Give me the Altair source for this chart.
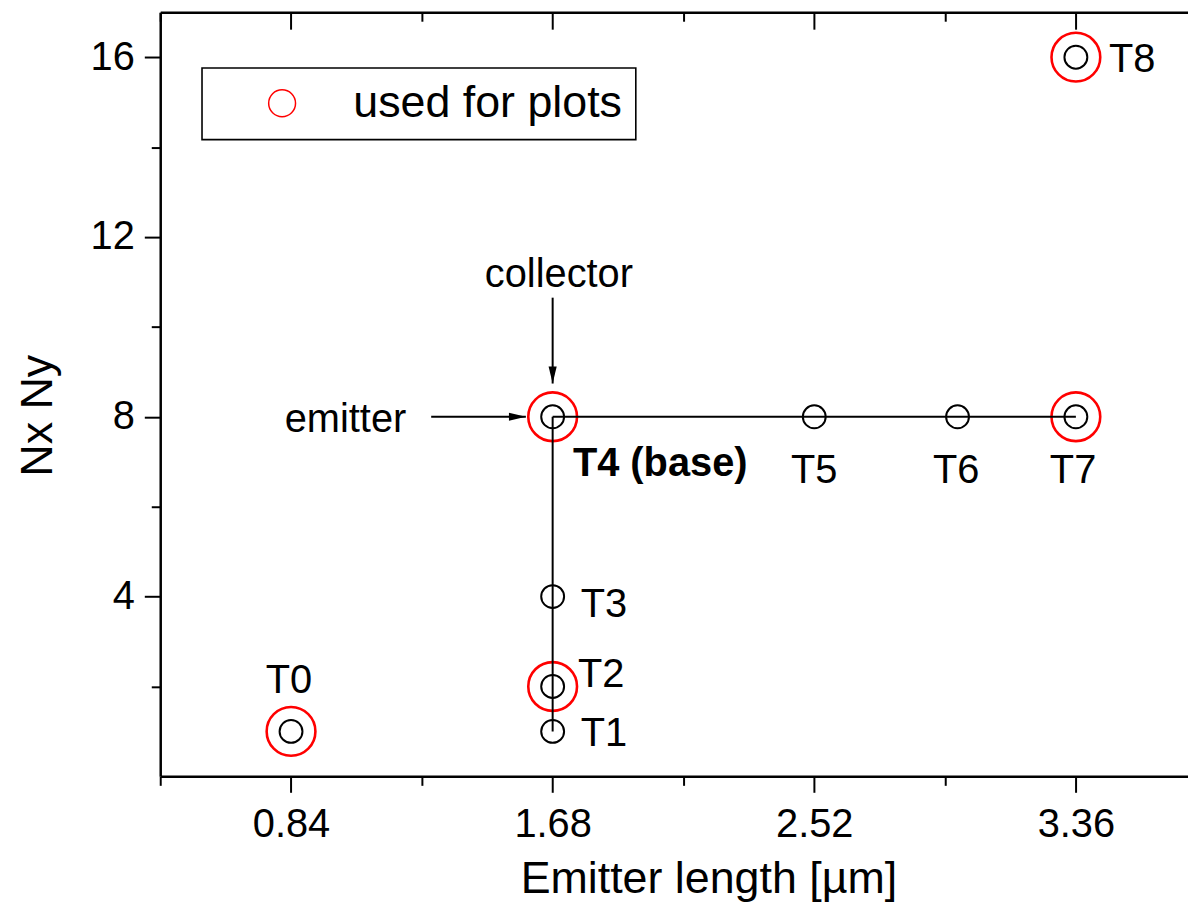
import altair as alt
import pandas as pd

FONT = "Liberation Sans"

# ---------------- data ----------------
names = ["T0", "T1", "T2", "T3", "T4", "T5", "T6", "T7", "T8"]
emitter_len = [0.84, 1.68, 1.68, 1.68, 1.68, 2.52, 2.98, 3.36, 3.36]
nxny = [1, 1, 2, 4, 8, 8, 8, 8, 16]
used_for_plots = ["T0", "T2", "T4", "T7", "T8"]

label_text = ["T0", "T1", "T2", "T3", "T4 (base)", "T5", "T6", "T7", "T8"]
label_x = [0.833, 1.770, 1.761, 1.770, 1.745, 2.52, 2.976, 3.351, 3.466]
label_y = [1.86, 0.686, 1.99, 3.54, 6.685, 6.53, 6.53, 6.53, 15.67]
label_align = ["center", "left", "left", "left", "left", "center", "center", "center", "left"]
label_weight = ["normal", "normal", "normal", "normal", "bold", "normal", "normal", "normal", "normal"]

seg_x = [1.68, 1.68]
seg_y = [8, 8]
seg_x2 = [3.36, 1.68]
seg_y2 = [8, 1]

arrow_x0 = [1.68, 1.290]
arrow_y0 = [10.65, 8]
arrow_x1 = [1.68, 1.594]
arrow_y1 = [8.74, 8]
arrow_dir = ["down", "right"]

annot_text = ["collector", "emitter"]
annot_x = [1.70, 1.210]
annot_y = [10.89, 7.66]
annot_align = ["center", "right"]

x_major = [0.84, 1.68, 2.52, 3.36]
x_minor = [0.42, 1.26, 2.10, 2.94]
y_major = [4, 8, 12, 16]
y_minor = [2, 6, 10, 14]

# ---------------- tables ----------------
pts = pd.DataFrame({"name": names, "x": emitter_len, "y": nxny})
red = pts[pts["name"].isin(used_for_plots)].assign(group="used for plots")
labels = pd.DataFrame({"text": label_text, "x": label_x, "y": label_y,
                       "align": label_align, "weight": label_weight})
segs = pd.DataFrame({"x": seg_x, "y": seg_y, "x2": seg_x2, "y2": seg_y2})
arrows = pd.DataFrame({"x": arrow_x0, "y": arrow_y0, "x2": arrow_x1, "y2": arrow_y1,
                       "dir": arrow_dir})
annots = pd.DataFrame({"text": annot_text, "x": annot_x, "y": annot_y, "align": annot_align})

W, H = 1033, 768
xs = alt.Scale(domain=[0.42, 3.72], nice=False, zero=False)
ys = alt.Scale(domain=[0, 17], nice=False, zero=False)

x_vals = sorted(x_major + x_minor)
y_vals = sorted(y_major + y_minor)
x_test = "indexof([" + ",".join(str(v) for v in x_major) + "], datum.value) >= 0"
y_test = "indexof([" + ",".join(str(v) for v in y_major) + "], datum.value) >= 0"

bottom_axis = alt.Axis(
    values=x_vals, orient="bottom", grid=False,
    tickSize={"condition": {"test": x_test, "value": 16}, "value": 9},
    tickWidth=2, tickColor="black", domainColor="black", domainWidth=2.5,
    labelExpr=x_test + " ? format(datum.value, '.2f') : ''",
    labelFontSize=40, labelFont=FONT, labelColor="black", labelPadding=12,
    labelOverlap=False, labelFlush=False,
    title="Emitter length [µm]", titleFont=FONT, titleFontSize=45,
    titleFontWeight="normal", titleColor="black",
    titleX=551, titleY=117, titleBaseline="alphabetic", titleAlign="center",
)
top_axis = alt.Axis(
    values=x_vals, orient="bottom", offset=-H, grid=False, labels=False, title="",
    tickSize={"condition": {"test": x_test, "value": 17}, "value": 9},
    tickWidth=2, tickColor="black", domainColor="black", domainWidth=2.5,
)
left_axis = alt.Axis(
    values=y_vals, orient="left", grid=False,
    tickSize={"condition": {"test": y_test, "value": 16}, "value": 9},
    tickWidth=2, tickColor="black", domainColor="black", domainWidth=2.5,
    labelExpr=y_test + " ? datum.label : ''",
    labelFontSize=40, labelFont=FONT, labelColor="black", labelPadding=10,
    labelOverlap=False, labelFlush=False,
    title="Nx Ny", titleFont=FONT, titleFontSize=45, titleFontWeight="normal",
    titleColor="black", titleX=-109, titleY=405, titleBaseline="alphabetic",
    titleAlign="center",
)

seg_layer = alt.Chart(segs).mark_rule(color="black", strokeWidth=2).encode(
    x=alt.X("x:Q", scale=xs, axis=None), y=alt.Y("y:Q", scale=ys, axis=None),
    x2="x2:Q", y2="y2:Q",
)

black_layer = alt.Chart(pts).mark_point(
    shape="circle", filled=False, size=529, color="black", strokeWidth=2, opacity=1
).encode(
    x=alt.X("x:Q", scale=xs, axis=bottom_axis),
    y=alt.Y("y:Q", scale=ys, axis=left_axis),
)

red_layer = alt.Chart(red).mark_point(
    shape="circle", filled=False, size=2401, strokeWidth=2.6, opacity=1
).encode(
    x=alt.X("x:Q", scale=xs, axis=top_axis),
    y=alt.Y("y:Q", scale=ys, axis=None),
    color=alt.Color(
        "group:N",
        scale=alt.Scale(domain=["used for plots"], range=["#ff0000"]),
        legend=alt.Legend(
            title="", orient="none", legendX=42, legendY=56, padding=13,
            symbolOffset=45, labelOffset=49, symbolSize=729, symbolType="circle",
            symbolStrokeWidth=1.5, labelFontSize=45, labelFont=FONT, labelLimit=0,
            labelColor="black", strokeColor="black",
        ),
    ),
)

arrow_rule = alt.Chart(arrows).mark_rule(color="black", strokeWidth=2).encode(
    x=alt.X("x:Q", scale=xs, axis=None), y=alt.Y("y:Q", scale=ys, axis=None),
    x2="x2:Q", y2="y2:Q",
)
head_down = "M0,0L-0.24,-1L0.24,-1Z"
head_right = "M0,0L-1,-0.24L-1,0.24Z"
arrow_head = alt.Chart(arrows).mark_point(
    filled=True, size=1156, color="black", opacity=1, strokeWidth=0
).encode(
    x=alt.X("x2:Q", scale=xs, axis=None), y=alt.Y("y2:Q", scale=ys, axis=None),
    shape=alt.Shape("dir:N", scale=alt.Scale(domain=["down", "right"],
                                             range=[head_down, head_right]),
                    legend=None),
)


def text_layer(df, align, weight="normal"):
    return alt.Chart(df).mark_text(
        align=align, baseline="alphabetic", font=FONT, fontSize=40,
        fontWeight=weight, color="black"
    ).encode(
        x=alt.X("x:Q", scale=xs, axis=None), y=alt.Y("y:Q", scale=ys, axis=None),
        text="text:N",
    )


txt_layers = []
for (al, wt), sub in labels.groupby(["align", "weight"]):
    txt_layers.append(text_layer(sub, al, wt))
for al, sub in annots.groupby("align"):
    txt_layers.append(text_layer(sub, al))

chart = alt.layer(
    black_layer, red_layer, seg_layer, arrow_rule, arrow_head, *txt_layers
).resolve_axis(x="independent", y="independent").properties(
    width=W, height=H,
    padding={"left": 153, "top": 2, "right": 0, "bottom": 126},
    autosize=alt.AutoSizeParams(type="none"),
).configure(
    font=FONT,
    view=alt.ViewConfig(stroke="transparent"),
    legend=alt.LegendConfig(strokeWidth=1.6),
)

chart.save("out.html", embed_options={"renderer": "svg", "actions": False})
